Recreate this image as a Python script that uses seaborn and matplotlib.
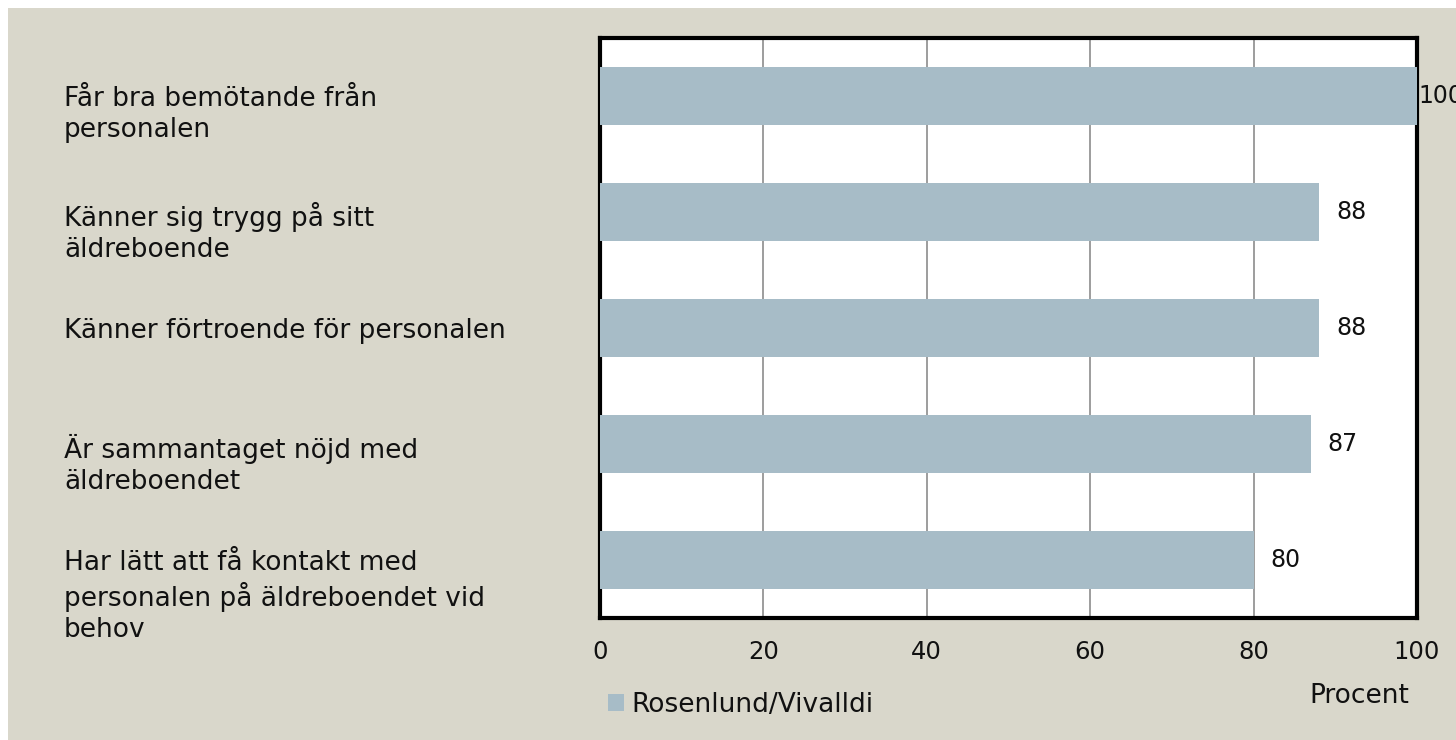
import matplotlib
matplotlib.use('Agg')
import matplotlib.pyplot as plt
import matplotlib.transforms as mtransforms
import seaborn as sns
import pandas as pd

# data
kategorier = ['Får bra bemötande från\npersonalen',
              'Känner sig trygg på sitt\näldreboende',
              'Känner förtroende för personalen',
              'Är sammantaget nöjd med\näldreboendet',
              'Har lätt att få kontakt med\npersonalen på äldreboendet vid\nbehov']
andel = [100, 88, 88, 87, 80]
serie = 'Rosenlund/Vivalldi'
xticks = [0, 20, 40, 60, 80, 100]

df = pd.DataFrame({'kategori': kategorier, 'andel': andel})

bg = '#D9D7CB'
barcol = '#A7BCC7'
txt = '#111111'

sns.set_style('white')
plt.rcParams['font.family'] = ['DejaVu Sans']

fig = plt.figure(figsize=(14.56, 7.40), dpi=100, facecolor='white')
# beige bakgrund med vit kant uppe och till vänster
fig.patches.append(plt.Rectangle((8 / 1456, 0), 1, 1 - 8 / 740, transform=fig.transFigure,
                                 facecolor=bg, edgecolor='none', zorder=-10))
ax = fig.add_axes([600 / 1456, 122 / 740, 817 / 1456, 580 / 740])

sns.barplot(data=df, x='andel', y='kategori', orient='h', color=barcol,
            width=0.5, saturation=1, ax=ax, label=serie, zorder=3,
            linewidth=0, edgecolor='none')

ax.set_xlim(0, 100)
ax.set_ylim(4.5, -0.5)
ax.set_xticks(xticks)
ax.set_xticklabels([str(t) for t in xticks], fontsize=17.5, color=txt)
ax.tick_params(axis='x', length=0, pad=16)
ax.set_yticks([])
ax.set_ylabel('')
ax.set_xlabel('Procent', fontsize=19, color=txt)
ax.xaxis.set_label_coords(0.93, -0.112)

ax.grid(axis='x', color='#8C8C8C', linewidth=1.2, zorder=0)
ax.set_axisbelow(True)
for s in ax.spines.values():
    s.set_color('black')
    s.set_linewidth(3)

# kategorietiketter, vänsterjusterade, första raden i höjd med stapeln
trans = mtransforms.blended_transform_factory(fig.transFigure, ax.transData)
for i, k in enumerate(kategorier):
    ax.text(64 / 1456, i - 0.09, k, transform=trans, ha='left', va='top',
            fontsize=19, color=txt, linespacing=1.25, clip_on=False,
            multialignment='left')

# värdeetiketter
for i, v in enumerate(andel):
    pad = 17 if v < 100 else 1
    ax.annotate(str(v), (v, i), xytext=(pad, 0), textcoords='offset pixels',
                ha='left', va='center', fontsize=17, color=txt,
                annotation_clip=False)

ax.legend(loc='center left', frameon=False, fontsize=19,
          handlelength=0.6, handleheight=0.6, handletextpad=0.3,
          labelcolor=txt, borderaxespad=0, borderpad=0)
leg = ax.get_legend()
leg.set_bbox_to_anchor((608 / 1456, 35 / 740), transform=fig.transFigure)

fig.savefig('out.png', dpi=100, facecolor=fig.get_facecolor())
